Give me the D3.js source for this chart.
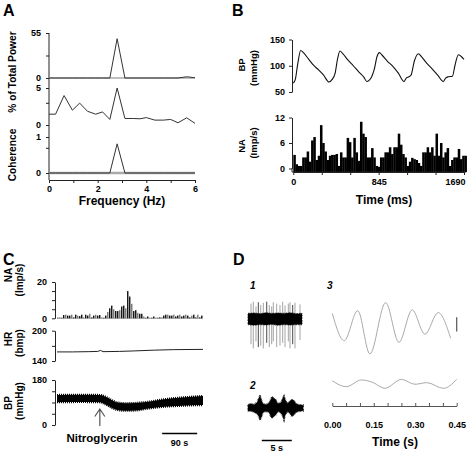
<!DOCTYPE html>
<html><head><meta charset="utf-8">
<script src="https://cdn.jsdelivr.net/npm/d3@7"></script>
<style>
body{margin:0;background:#fff}
svg text{font-family:"Liberation Sans",Arial,Helvetica,sans-serif;font-weight:bold;fill:#000}
</style>
</head><body><svg id="c" width="467" height="452"></svg>
<script>
// ---------- Panel A data ----------
const freqHz = [0,0.27,0.62,0.96,1.26,1.58,1.92,2.2,2.5,2.8,3.12,3.46,3.74,4.0,4.35,4.7,5.0,5.3,5.66,6.0];
const powerBP = [0,0,0,0,0,0,0,0,0,48,0,0,0,0,0,0,0,0,1.5,0.3];
const powerNA = [1.46,1.46,3.98,2.0,2.96,1.86,1.46,1.77,0.75,5.0,0.88,0.88,0.84,1.0,0.66,0.66,0.75,0.3,0.97,0.22];
const coherence = [0,0,0,0,0,0,0,0,0,0.81,0,0,0,0,0,0,0,0,0,0];
const freqTicks = [0,1,2,3,4,5,6];
const freqTickLabels = [0,2,4,6];

// ---------- Panel B data ----------
const bpTimeMs = [0,20,45,73,100,150,200,250,300,353,385,413,440,462,490,540,594,650,700,727,750,776,800,830,852,880,930,990,1040,1096,1120,1145,1165,1200,1238,1270,1320,1370,1430,1485,1510,1535,1575,1600,1634,1660,1690];
const bpMmHg   = [67,74,105,129,125,113,101,92,82,69,74,85,115,128,123,111,100,88,78,70,72,79,92,118,125,120,109,98,86,70,77,79,82,110,123,117,105,95,82,70,77,79,80,100,121,118,112];
const naBinMs = 22;
const naRate = [3.2,1,0.6,0.6,2.6,2.6,4,1.6,6.6,7.4,2,3,10.2,6,4,2,3,3.2,3.2,3.4,0.6,3.8,2.6,2.6,7.2,6.2,2.6,7.2,3.8,1.8,11,8.2,7.4,2.6,2.6,4.8,2.6,0.6,0.4,2.6,2.6,3.8,3.8,5,3.4,5,5,8.2,5.6,3.4,2.6,0.6,1.6,2.5,2.2,2,1.3,0.6,3.8,3.8,5,3.8,5,3,8.2,3,6,2.6,3.8,4.8,0.6,2,2.6,2.6,4.6,2.2,3,3];
const timeTicksMs = [0,281.67,563.33,845,1126.67,1408.33,1690];
const timeTickLabels = [0,845,1690];

// ---------- Panel C data ----------
const cBinS = 5.14;
const cNA = [0.3,0.5,0.3,1.8,2,1.5,1.5,2,0.5,2,1.5,1.2,2,0.5,2,1.5,2.5,0.5,1.5,2,1.5,1.8,0.5,0.3,1.5,3.5,5.5,7,5,4,4,4.5,6.5,7,5.5,15,12,8,4,4.5,3,2.5,2.5,1,0.3,1,0.3,0.3,1,0.3,0.3,0.5,0.5,1.5,2,2,1.5,1.5,2,1,1.5,2,1,1.5,2,1.5,0.5,1.5,2,0.5,2,0.5,1.5];
const hrTimeS = [0,40,80,105,112,118,160,200,250,300,375];
const hrBpm   = [158,158,158.5,159,161,158.5,159,160,161.5,162.5,163];
const cBpTimeS = [0,60,110,125,140,155,175,200,235,275,320,375];
const cBpSys   = [120,121,120,113,100,90,87,88,93,103,110,116];
const cBpDia   = [91,92,91,82,69,60,57,58,66,73,77,80];
const nitroTimeS = 110;

// ---------- Panel D data ----------
const tr1TimeS = [0,1,2,3,4,5,6,7,8,9];
const tr1Up    = [0.2,0.21,0.19,0.22,0.2,0.21,0.2,0.22,0.19,0.2];
const tr1Down  = [-0.2,-0.22,-0.2,-0.21,-0.19,-0.22,-0.2,-0.21,-0.2,-0.2];
const spikeTimeS = [0.5,0.88,1.33,1.72,2.12,2.55,3.12,3.55,3.95,4.22,4.78,5.33,5.78,6.17,6.72,7.0,7.45,7.83,8.67];
const spikeUp    = [0.55,0.62,0.45,0.6,0.5,0.58,0.62,0.5,0.45,0.6,0.55,0.5,0.62,0.48,0.55,0.6,0.5,0.58,0.52];
const spikeDown  = [-0.9,-1.05,-0.8,-1.0,-0.95,-1.05,-0.85,-1.0,-0.9,-0.8,-1.0,-0.95,-0.85,-1.0,-0.8,-1.05,-0.9,-1.05,-0.75];
const spikeDark  = [0,0,0,1,0,0,1,0,0,0,0,0,0,0,0,0,1,0,0];
const tr2TimeS = [0,0.5,1,1.5,1.8,2,2.2,2.5,3,3.5,3.8,4,4.3,4.6,5,5.5,5.8,6,6.2,6.6,7,7.3,7.6,8,8.5,9.2];
const tr2Up    = [0.12,0.15,0.12,0.2,0.35,0.46,0.3,0.15,0.12,0.18,0.3,0.4,0.35,0.3,0.15,0.2,0.35,0.43,0.3,0.15,0.25,0.3,0.28,0.15,0.12,0.1];
const tr2Down  = [-0.12,-0.1,-0.15,-0.2,-0.3,-0.43,-0.35,-0.15,-0.12,-0.15,-0.3,-0.36,-0.3,-0.25,-0.12,-0.18,-0.3,-0.43,-0.25,-0.12,-0.2,-0.3,-0.25,-0.15,-0.12,-0.1];
const w3aTimeS = [0,0.043,0.092,0.136,0.193,0.241,0.289,0.335,0.383,0.428];
const w3aAmp   = [0.54,-0.47,0.64,-0.96,0.94,-0.53,0.67,-0.23,0.57,-0.38];
const w3bTimeS = [0,0.05,0.106,0.148,0.19,0.25,0.299,0.342,0.402,0.45];
const w3bAmp   = [0.12,-0.1,0.15,0.05,-0.16,0.17,-0.01,0.05,-0.16,0.17];
const dTimeTicks = [0,0.05,0.1,0.15,0.2,0.25,0.3,0.35,0.4,0.45];
const dTimeLabels = [0,0.15,0.3,0.45];

// ---------- drawing ----------
const svg = d3.select('#c');
const FONT = '"Liberation Sans",Arial,Helvetica,sans-serif';
function styleAxis(g, fs){
  g.attr('font-family',FONT).attr('font-size',fs).attr('font-weight','bold');
  g.selectAll('.domain').attr('stroke','#222');
  g.selectAll('.tick line').attr('stroke','#222');
  g.selectAll('.tick text').attr('fill','#000');
}
function label(x,y,txt,fs,opts={}){
  const t = svg.append('text').attr('x',x).attr('y',y).attr('font-size',fs).text(txt)
    .attr('text-anchor',opts.anchor||'start');
  if(opts.italic) t.attr('font-style','italic');
  return t;
}
function vlabel(x,y,txt,fs){
  svg.append('text').attr('transform',`translate(${x},${y}) rotate(-90)`)
    .attr('text-anchor','middle').attr('font-size',fs).text(txt);
}
const incl = (arr)=> (v)=> arr.some(a=>Math.abs(a-v)<1e-6) ? v : '';

// ===== Panel A =====
label(3,16,'A',16);
const xA = d3.scaleLinear([0,6],[49,195]);
const yA1 = d3.scaleLinear([0,55],[78,33]);
const yA2 = d3.scaleLinear([0,5],[125,88]);
const yA3 = d3.scaleLinear([0,1],[173,137]);
svg.append('line').attr('x1',49).attr('x2',49).attr('y1',33).attr('y2',180).attr('stroke','#222');
[[yA1,[0,27.5,55],[0,55]],[yA2,[0,3,5],[0,5]],[yA3,[0,0.7,1],[0,1]]].forEach(([s,tv,tl])=>{
  const g = svg.append('g').attr('transform','translate(49,0)')
    .call(d3.axisLeft(s).tickValues(tv).tickFormat(incl(tl)).tickSize(3).tickSizeOuter(0).tickPadding(5));
  g.select('.domain').remove();
  styleAxis(g,9);
});
const gxA = svg.append('g').attr('transform','translate(0,180)')
  .call(d3.axisBottom(xA).tickValues(freqTicks).tickFormat(incl(freqTickLabels)).tickSize(3).tickSizeOuter(0).tickPadding(3));
styleAxis(gxA,9);
svg.append('line').attr('x1',xA(0)).attr('x2',xA(6)).attr('y1',yA1(0)).attr('y2',yA1(0)).attr('stroke','#aaa').attr('stroke-width',1.5);
svg.append('line').attr('x1',xA(0)).attr('x2',xA(6)).attr('y1',yA3(0)).attr('y2',yA3(0)).attr('stroke','#aaa').attr('stroke-width',2.5);
const lineA = (ys)=> d3.line().x((d,i)=>xA(freqHz[i])).y(d=>ys(d));
svg.append('path').attr('d',lineA(yA1)(powerBP)).attr('fill','none').attr('stroke','#333').attr('stroke-width',1);
svg.append('path').attr('d',lineA(yA2)(powerNA)).attr('fill','none').attr('stroke','#333').attr('stroke-width',1);
svg.append('path').attr('d',lineA(yA3)(coherence)).attr('fill','none').attr('stroke','#333').attr('stroke-width',1);
vlabel(16,72,'% of Total Power',10.2);
vlabel(16,155,'Coherence',10.2);
label(122,205,'Frequency (Hz)',12,{anchor:'middle'});

// ===== Panel B =====
label(232,16,'B',16);
const xB = d3.scaleLinear([0,1690],[293.3,464]);
const yBP = d3.scaleLinear([50,150],[92,39.5]);
const yNA = d3.scaleLinear([0,12],[168.5,117.5]);
const gBP = svg.append('g').attr('transform','translate(292,0)')
  .call(d3.axisLeft(yBP).tickValues([50,100,150]).tickSize(3).tickSizeOuter(0).tickPadding(4));
styleAxis(gBP,9);
svg.append('path').datum(bpMmHg).attr('d',d3.line().x((d,i)=>xB(bpTimeMs[i])).y(d=>yBP(d)).curve(d3.curveMonotoneX))
  .attr('fill','none').attr('stroke','#111').attr('stroke-width',1.1);
const gNA = svg.append('g').attr('transform','translate(292,0)')
  .call(d3.axisLeft(yNA).tickValues([0,6,12]).tickSize(3).tickSizeOuter(0).tickPadding(4));
styleAxis(gNA,9);
svg.append('line').attr('x1',292).attr('x2',292).attr('y1',yNA(0)).attr('y2',172).attr('stroke','#222');
svg.append('g').selectAll('rect').data(naRate).join('rect')
  .attr('x',(d,i)=>xB(i*naBinMs)).attr('width',xB(naBinMs)-xB(0)+0.3)
  .attr('y',d=>yNA(d)).attr('height',d=>172-yNA(d)).attr('fill','#000');
const gxB = svg.append('g').attr('transform','translate(0,172)')
  .call(d3.axisBottom(xB).tickValues(timeTicksMs).tickFormat(v=>timeTickLabels.some(a=>Math.abs(a-v)<1e-6)?v:'').tickSize(3).tickSizeOuter(0).tickPadding(4));
styleAxis(gxB,9);
svg.append('line').attr('x1',292).attr('x2',xB(1712)).attr('y1',172).attr('y2',172).attr('stroke','#222');
gxB.selectAll('.tick text').filter(d=>d===1690).attr('text-anchor','end').attr('dx',1);
vlabel(245,65,'BP',9.5);
vlabel(257,68,'(mmHg)',9.5);
vlabel(245,146,'NA',9.5);
vlabel(257,143,'(Imp/s)',9.5);
label(384,204,'Time (ms)',12,{anchor:'middle'});

// ===== Panel C =====
label(3,265,'C',16);
const xC = d3.scaleLinear([0,375],[57,203]);
const yCNA = d3.scaleLinear([0,20],[318.3,282]);
const yHR = d3.scaleLinear([140,200],[361,330.7]);
const yCBP = d3.scaleLinear([0,180],[425,380]);
[[yCNA,[0,5,10,15,20],[0,20]],[yHR,[140,170,200],[140,200]],[yCBP,[0,45,90,135,180],[0,180]]].forEach(([s,tv,tl])=>{
  const g = svg.append('g').attr('transform','translate(55,0)')
    .call(d3.axisLeft(s).tickValues(tv).tickFormat(incl(tl)).tickSize(3).tickSizeOuter(0).tickPadding(5));
  styleAxis(g,9);
});
svg.append('line').attr('x1',xC(0)).attr('x2',xC(375)).attr('y1',yCNA(0)).attr('y2',yCNA(0)).attr('stroke','#aaa').attr('stroke-width',1);
svg.append('g').selectAll('rect').data(cNA).join('rect')
  .attr('x',(d,i)=>xC(i*cBinS)).attr('width',1.4)
  .attr('y',d=>yCNA(d)).attr('height',d=>yCNA(0)-yCNA(d)).attr('fill',(d,i)=> i%3===1?'#777':'#111');
svg.append('path').datum(hrBpm).attr('d',d3.line().x((d,i)=>xC(hrTimeS[i])).y(d=>yHR(d)))
  .attr('fill','none').attr('stroke','#222').attr('stroke-width',1);
const bpArea = d3.area().x((d,i)=>xC(cBpTimeS[i])).y0((d,i)=>yCBP(cBpDia[i])).y1(d=>yCBP(d)).curve(d3.curveMonotoneX);
svg.append('path').datum(cBpSys).attr('d',bpArea).attr('fill','#000');
const sysLine = d3.line().x((d,i)=>xC(cBpTimeS[i])).y(d=>yCBP(d)).curve(d3.curveMonotoneX);
svg.append('path').datum(cBpSys).attr('d',sysLine).attr('fill','none').attr('stroke','#000').attr('stroke-width',2.2).attr('stroke-dasharray','1,1');
svg.append('path').datum(cBpDia).attr('d',sysLine).attr('fill','none').attr('stroke','#000').attr('stroke-width',2.2).attr('stroke-dasharray','1,1');
const ax = xC(nitroTimeS);
svg.append('path').attr('d',`M${ax},426 L${ax},409 M${ax-5},416.5 L${ax},409 L${ax+5},416.5`)
  .attr('fill','none').attr('stroke','#555').attr('stroke-width',1.2);
label(102,442,'Nitroglycerin',11.5,{anchor:'middle'});
svg.append('line').attr('x1',xC(270)).attr('x2',xC(360)).attr('y1',433.5).attr('y2',433.5).attr('stroke','#000').attr('stroke-width',1.5);
label(xC(315),446,'90 s',9,{anchor:'middle'});
vlabel(12,275,'NA',10);
vlabel(23,280,'(Imp/s)',10);
vlabel(12,339,'HR',10);
vlabel(23,343,'(bmp)',10);
vlabel(12,403,'BP',10);
vlabel(23,401,'(mmHg)',10);

// ===== Panel D =====
label(233,265,'D',16);
label(250,289,'1',10,{italic:true});
label(250,389,'2',10,{italic:true});
label(327,289,'3',10,{italic:true});
const xD = d3.scaleLinear([0,9],[248,302]);
const yD1 = d3.scaleLinear([-1,1],[347,291]);
const yD2 = d3.scaleLinear([-1,1],[436,380]);
svg.append('g').selectAll('line').data(spikeTimeS).join('line')
  .attr('x1',d=>xD(d)).attr('x2',d=>xD(d))
  .attr('y1',(d,i)=>yD1(spikeUp[i])).attr('y2',(d,i)=>yD1(spikeDown[i]))
  .attr('stroke',(d,i)=>spikeDark[i]?'#333':'#999').attr('stroke-width',0.9);
svg.append('path').datum(tr1Up)
  .attr('d',d3.area().x((d,i)=>xD(tr1TimeS[i])).y0((d,i)=>yD1(tr1Down[i])).y1(d=>yD1(d)))
  .attr('fill','#000').attr('stroke','#000').attr('stroke-width',1.2).attr('stroke-dasharray','0.7,0.9');
svg.append('path').datum(tr2Up)
  .attr('d',d3.area().x((d,i)=>xD(tr2TimeS[i])).y0((d,i)=>yD2(tr2Down[i])).y1(d=>yD2(d)))
  .attr('fill','#000').attr('stroke','#000').attr('stroke-width',1.6).attr('stroke-dasharray','0.6,0.8');
svg.append('line').attr('x1',xD(2.3)).attr('x2',xD(7.3)).attr('y1',440.5).attr('y2',440.5).attr('stroke','#000').attr('stroke-width',1.5);
label(xD(4.8),451,'5 s',9,{anchor:'middle'});

const xD3 = d3.scaleLinear([0,0.45],[332.3,456.7]);
const yD3a = d3.scaleLinear([-1,1],[355,301]);
const yD3b = d3.scaleLinear([-1,1],[411,357]);
svg.append('path').datum(w3aAmp).attr('d',d3.line().x((d,i)=>xD3(w3aTimeS[i])).y(d=>yD3a(d)).curve(d3.curveMonotoneX))
  .attr('fill','none').attr('stroke','#aaa').attr('stroke-width',1);
svg.append('path').datum(w3bAmp).attr('d',d3.line().x((d,i)=>xD3(w3bTimeS[i])).y(d=>yD3b(d)).curve(d3.curveMonotoneX))
  .attr('fill','none').attr('stroke','#aaa').attr('stroke-width',1);
svg.append('line').attr('x1',xD3(0.45)).attr('x2',xD3(0.45)).attr('y1',yD3a(0.4)).attr('y2',yD3a(-0.13)).attr('stroke','#555').attr('stroke-width',1.2);
const gxD = svg.append('g').attr('transform','translate(0,406)')
  .call(d3.axisBottom(xD3).tickValues(dTimeTicks).tickFormat(v=>dTimeLabels.some(a=>Math.abs(a-v)<1e-6)?d3.format('.2f')(v):'').tickSize(-3).tickSizeOuter(0).tickPadding(16));
styleAxis(gxD,9);
gxD.select('.domain').attr('stroke','#555');
gxD.selectAll('.tick line').attr('stroke','#555');
label(395,446,'Time (s)',12,{anchor:'middle'});
</script>
</body></html>
